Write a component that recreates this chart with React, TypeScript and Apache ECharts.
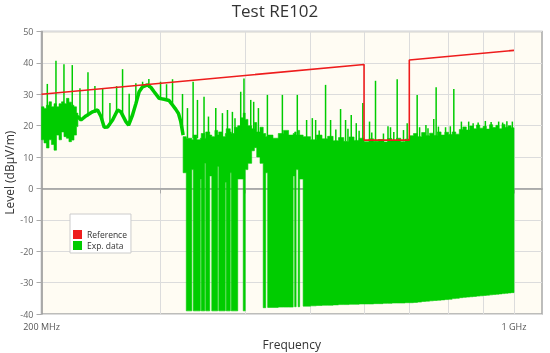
import React, { useEffect, useRef } from 'react';
import * as echarts from 'echarts';

const TITLE = 'Test RE102';
const X_NAME = 'Frequency';
const Y_NAME = 'Level (dBµV/m)';
const X_TICKS = [200, 300, 400, 500, 600, 700, 800, 900, 1000];
const X_LABELS = [200, 1000];

// Reference limit (MHz, dBµV/m)
const REF_F = [200, 600, 600, 700, 700, 1000];
const REF_V = [30, 39.5, 15.4, 15.4, 40.9, 44];

// Measured data: low-frequency noisy band (bin start MHz, min, max)
const LEFT_F = [200, 201.7, 203.4, 205.2, 206.9, 208.7, 210.5, 212.3, 214.1, 215.9, 217.7, 219.6, 221.5, 223.4, 225.3];
const LEFT_END = 226.4;
const LEFT_LO = [15.5, 14.5, 12.9, 15.5, 14, 12.2, 17, 15.5, 18, 16.5, 16, 14.9, 15.4, 17, 19.7];
const LEFT_HI = [26, 25.5, 26.5, 27.6, 26, 27, 26, 27, 27.6, 27, 28.7, 27.5, 26.5, 26, 24];

// Measured data: smooth trace section
const TRACE_F = [225.3, 226.2, 228.8, 232.7, 238.0, 242.1, 244.9, 247.6, 250.5, 254.8, 259.2, 262.1, 266.6, 269.1, 272.7, 275.8, 278.9, 282.2, 287.0, 290.3, 293.5, 298.6, 303.7, 308.9, 312.5, 316.0, 318.9, 321.4, 324.0];
const TRACE_V = [22.5, 22.9, 21.8, 23.1, 24.4, 25, 22.9, 19.5, 19.6, 21.8, 25, 24.4, 21.3, 20.2, 23.4, 27, 30.8, 32.4, 33, 32.2, 30.8, 28.7, 28.4, 28, 26.6, 25.2, 23.9, 21.3, 17];

// Measured data: dense noise region (bin start MHz, min, max)
const NOISE_F = [
  324.0, 327.5, 333.7, 335.4, 339.5, 343.5, 344.6, 348.8, 349.9, 354.7,
  357.2, 361.0, 364.5, 365.8, 370.0, 374.0, 375.2, 380.4, 381.7, 386.0,
  390.2, 394.0, 397.6, 400.3, 404.0, 409.2, 413.0, 416.3, 421.0, 425.6,
  429.2, 432.1, 440.0, 448.0, 456.0, 464.0, 471.3, 473.7, 476.1, 479.4,
  481.8, 487.6, 500,
  510, 520, 530, 540, 550, 560, 570, 580, 590, 600,
  610, 620, 630, 640, 650, 660, 670, 680, 690, 700,
  710, 720, 730, 740, 750, 760, 770, 780, 790, 800,
  810, 820, 830, 840, 850, 860, 870, 880, 890, 900,
  910, 920, 930, 940, 950, 960, 970, 980, 990,
];
const NOISE_END = 1000;
const NOISE_LO = [
  5, -39, 6, -39, -39, 3, -39, 8, -39, 4,
  -39, -39, 7, -39, -39, 2, -39, 5, -39, -39,
  3, 3, -39, 6, 8, 12, 13, 10, 8, -38,
  5, -37.9, -37.9, -37.8, -37.8, -37.8, 4, -37.7, 6, -37.7,
  3, -37.5, -37.4,
  -37.3, -37.2, -37.2, -37.1, -37.0, -37.0, -36.9, -36.9, -36.8, -36.8,
  -36.8, -36.7, -36.7, -36.6, -36.6, -36.5, -36.5, -36.5, -36.4, -36.4,
  -36.3, -36.2, -36.0, -35.9, -35.8, -35.7, -35.6, -35.5, -35.4, -35.3,
  -35.1, -35.0, -34.8, -34.7, -34.6, -34.5, -34.4, -34.3, -34.2, -34.1,
  -34.0, -33.9, -33.8, -33.7, -33.6, -33.5, -33.4, -33.3, -33.2,
];
const NOISE_HI = [
  16.5, 16, 15.5, 17, 15.5, 16, 17.5, 16, 18, 17,
  16.5, 18.5, 17, 18, 16.5, 17.5, 19, 18, 17.5, 19.5,
  20, 22.5, 24, 22, 20, 19, 21, 18, 19.5, 17.5,
  16.5, 17, 16, 17.5, 18.5, 17, 17.5, 18, 17, 18.5,
  17, 16.5, 15.5,
  17, 15.8, 16.6, 15.2, 16.2, 15.0, 16.4, 15.3, 16.0, 14.9,
  15.8, 15.0, 15.6, 14.8, 15.9, 15.2, 16.0, 14.9, 15.7, 16.8,
  17.5, 16.5, 17.8, 16.8, 17.6, 16.9, 18.0, 17.0, 17.9, 17.2,
  18.0, 17.3, 18.8, 19.6, 18.6, 19.9, 19.0, 20.2, 19.2, 19.8,
  18.9, 20.3, 19.4, 20.1, 19.0, 20.4, 19.5, 20.0, 19.3,
];

// Measured data: narrow spikes (MHz, base, peak)
const SPIKE_F = [
  204.0, 210.1, 215.9, 222.1, 228.0, 234.3, 239.9, 246.3, 252.5, 258.3,
  263.6, 269.6, 275.8, 282.2, 288.3, 300.0, 306.2, 312.5, 323.3,
  328.8, 335.2, 340.2, 347.9, 353.2, 362.1, 370.4, 376.8, 383.2, 386.6,
  394.2, 398.6, 407.9, 412.0, 418.7, 431.7, 454.3, 478.0, 493.4, 503.1,
  508.8, 515, 526.3, 535.4, 545, 553.9, 563.4, 568, 574.4, 584.3,
  590, 597.5, 611.3, 616, 623.9, 641, 651.0, 656.6, 664, 671.7,
  686.3, 695.0, 719.0, 725, 740.8, 746, 760.8, 767.0, 773.0, 792,
  805, 814.6, 835.9, 856.9, 870, 885, 907.0, 925, 949.0, 962,
  976, 994.3,
];
const SPIKE_BASE = [
  25, 26, 26, 26, 22, 23, 24, 21, 20, 24,
  23, 20, 27, 32, 32, 28.7, 28.3, 26.6, 18,
  16, 16, 16, 16, 16, 16, 16, 16, 16, 16,
  18, 18, 18, 18, 16, 16, 16, 16, 15, 15,
  15, 15, 15, 15, 15, 15, 15, 15, 15, 15,
  15, 15, 15, 14.5, 15, 14.5, 15, 15, 14.5, 15,
  15, 15, 16, 16, 16, 16, 16, 16, 16, 17,
  17, 17, 18, 18, 18, 18, 18, 18, 18, 18,
  18, 18,
];
const SPIKE_PEAK = [
  33.3, 40.7, 39.6, 39.3, 31.9, 37, 32.6, 32, 27.2, 32.6,
  38, 30.2, 33.5, 34, 34.9, 34, 33.2, 34.8, 30.1,
  25.6, 34, 28.2, 29.2, 22.9, 25.6, 24, 25, 24.4, 22.4,
  30.8, 35, 28.2, 27.6, 25.6, 29.8, 29.8, 29.8, 21.8, 22.4,
  21.8, 18.5, 33, 21.8, 18.8, 25.3, 21.8, 19, 23.4, 20.8,
  18.4, 27.2, 21.3, 17.8, 34.3, 17.5, 19.8, 19.5, 18, 34.8,
  18.6, 20.8, 29.8, 19.5, 20.2, 19.2, 22.1, 32.2, 19.7, 19.5,
  19.8, 31.7, 21.3, 21.3, 20.8, 21, 21.5, 21.2, 21.3, 21,
  21.4, 21.3,
];

const GREEN = '#00cc00';
const RED = '#ee1c1c';
const FONT = 'Open Sans';

function bins(f: number[], end: number, lo: number[], hi: number[]) {
  return f.map((v, i) => [v, i + 1 < f.length ? f[i + 1] : end, lo[i], hi[i]]);
}

export default function App() {
  const ref = useRef<HTMLDivElement>(null);
  useEffect(() => {
    if (!ref.current) return;
    const chart = echarts.init(ref.current, null, { renderer: 'svg' });
    const bandData = [...bins(LEFT_F, LEFT_END, LEFT_LO, LEFT_HI), ...bins(NOISE_F, NOISE_END, NOISE_LO, NOISE_HI)];
    const spikeData = SPIKE_F.map((f, i) => [f, SPIKE_BASE[i], SPIKE_PEAK[i]]);
    const traceData = TRACE_F.map((f, i) => [f, TRACE_V[i]]);
    const refData = REF_F.map((f, i) => [f, REF_V[i]]);

    // contiguous runs of bins -> one outline polygon each
    const runs: number[][][] = [];
    let cur: number[][] = [];
    bandData.forEach((d, i) => {
      cur.push(d);
      const nx = bandData[i + 1];
      if (!nx || nx[0] !== d[1]) { runs.push(cur); cur = []; }
    });

    const ic = (pts: number[][]) => ({ type: 'polyline', shape: { points: pts }, style: { stroke: '#8a8a8a', lineWidth: 1, fill: null } });
    const cx = 78.5, cy = 220.5;

    chart.setOption({
      animation: false,
      title: {
        text: TITLE, left: 'center', top: 2, padding: 0,
        textStyle: { fontFamily: FONT, fontSize: 17, fontWeight: 'normal', color: '#333' },
      },
      legend: {
        orient: 'vertical', left: 70, top: 214,
        padding: [16, 4, 3, 3], itemGap: 2, itemWidth: 9, itemHeight: 9,
        backgroundColor: '#ffffff', borderColor: '#cccccc', borderWidth: 1,
        textStyle: { fontFamily: FONT, fontSize: 8.5, color: '#333' },
        data: [{ name: 'Reference', icon: 'rect' }, { name: 'Exp. data', icon: 'rect' }],
        selectedMode: false,
      },
      graphic: [
        ic([[cx - 3.5, cy - 1.5], [cx - 3.5, cy - 3.5], [cx - 1.5, cy - 3.5]]),
        ic([[cx + 1.5, cy - 3.5], [cx + 3.5, cy - 3.5], [cx + 3.5, cy - 1.5]]),
        ic([[cx - 3.5, cy + 1.5], [cx - 3.5, cy + 3.5], [cx - 1.5, cy + 3.5]]),
        ic([[cx + 1.5, cy + 3.5], [cx + 3.5, cy + 3.5], [cx + 3.5, cy + 1.5]]),
        ic([[cx - 3.5, cy - 3.5], [cx - 1, cy - 1]]),
        ic([[cx + 3.5, cy - 3.5], [cx + 1, cy - 1]]),
        ic([[cx - 3.5, cy + 3.5], [cx - 1, cy + 1]]),
        ic([[cx + 3.5, cy + 3.5], [cx + 1, cy + 1]]),
      ],
      grid: {
        left: 41.5, right: 8, top: 31.5, bottom: 39, show: true,
        backgroundColor: '#fffcf3', borderColor: '#a8a8a8', borderWidth: 1.5,
        containLabel: false, outerBoundsMode: 'none',
      },
      xAxis: {
        type: 'log', logBase: 10, min: 200, max: 1100,
        name: X_NAME, nameLocation: 'middle', nameGap: 24, nameMoveOverlap: false,
        nameTextStyle: { fontFamily: FONT, fontSize: 12, color: '#333' },
        axisLine: { show: true, lineStyle: { color: '#999', width: 1.5 } },
        axisTick: { show: true, length: 5, lineStyle: { color: '#aaa' }, customValues: X_TICKS },
        axisLabel: {
          customValues: X_LABELS, fontFamily: FONT, fontSize: 9, color: '#555', margin: 8,
          formatter: (v: number) => { const r = Math.round(v); return r >= 1000 ? r / 1000 + ' GHz' : r + ' MHz'; },
        },
        splitLine: { show: true, lineStyle: { color: '#dcdcdc', width: 1 } },
        minorTick: { show: false }, minorSplitLine: { show: false },
      },
      yAxis: {
        type: 'value', min: -40, max: 50, interval: 10,
        name: Y_NAME, nameLocation: 'middle', nameGap: 26.5, nameRotate: 90, nameMoveOverlap: false,
        nameTextStyle: { fontFamily: FONT, fontSize: 12, color: '#333' },
        axisLine: { show: true, lineStyle: { color: '#999', width: 1.5 } },
        axisTick: { show: true, length: 5, lineStyle: { color: '#aaa' } },
        axisLabel: { fontFamily: FONT, fontSize: 9, color: '#666', margin: 8 },
        splitLine: { show: true, lineStyle: { color: '#dcdcdc', width: 1 } },
      },
      series: [
        {
          name: 'Exp. data', type: 'custom', silent: true, clip: false,
          itemStyle: { color: GREEN },
          data: bandData,
          encode: { x: [0, 1], y: [2, 3] },
          renderItem: (params: any, api: any) => {
            if (params.dataIndex !== 0) return null;
            const children = runs.map((run) => {
              const top: number[][] = [];
              const bot: number[][] = [];
              run.forEach((d) => {
                const p0 = api.coord([d[0], d[3]]); const t0 = [p0[0], p0[1]];
                const p1 = api.coord([d[1], d[3]]); const t1 = [p1[0], p1[1]];
                const q0 = api.coord([d[0], d[2]]); const b0 = [q0[0], q0[1]];
                const q1 = api.coord([d[1], d[2]]); const b1 = [q1[0], q1[1]];
                top.push(t0, t1);
                bot.push(b0, b1);
              });
              return {
                type: 'polygon',
                shape: { points: [...top, ...bot.reverse()] },
                style: { fill: GREEN, stroke: GREEN, lineWidth: 0.6 },
              };
            });
            return { type: 'group', children };
          },
        },
        {
          name: 'Exp. data', type: 'line', silent: true, showSymbol: false, symbol: 'none',
          data: traceData, itemStyle: { color: GREEN },
          lineStyle: { color: GREEN, width: 3.5 },
        },
        {
          name: 'Exp. data', type: 'custom', silent: true,
          itemStyle: { color: GREEN },
          data: spikeData,
          encode: { x: 0, y: [1, 2] },
          renderItem: (params: any, api: any) => {
            const d = spikeData[params.dataIndex];
            const a = api.coord([d[0], d[2]]);
            const ax = a[0], ay = a[1];
            const b = api.coord([d[0], d[1]]);
            return {
              type: 'line',
              shape: { x1: ax, y1: ay, x2: b[0], y2: b[1] },
              style: { stroke: GREEN, lineWidth: 1.5 },
            };
          },
        },
        {
          name: 'Reference', type: 'line', silent: true, showSymbol: false, symbol: 'none',
          data: refData, itemStyle: { color: RED },
          lineStyle: { color: RED, width: 1.6 },
        },
      ],
    });
    return () => chart.dispose();
  }, []);
  return <div ref={ref} style={{ position: 'fixed', left: 0, top: 0, width: 550, height: 353 }} />;
}
